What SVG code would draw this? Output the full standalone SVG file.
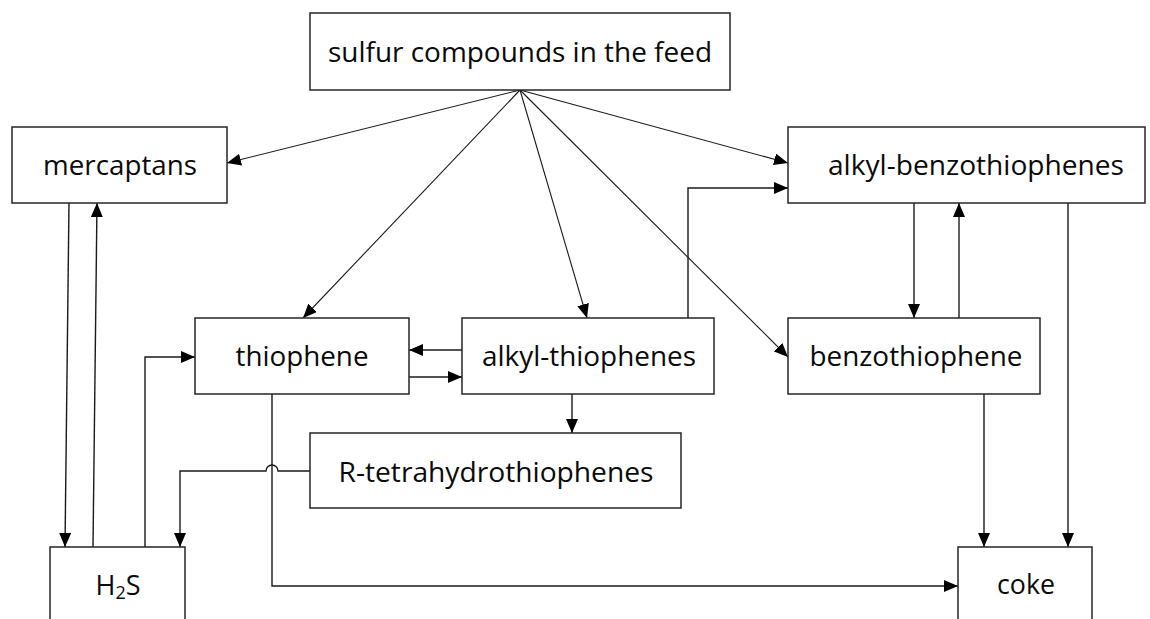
<svg xmlns="http://www.w3.org/2000/svg" width="1150" height="619" viewBox="0 0 1150 619">
  <style>
    .box { fill: #ffffff; stroke: #262626; stroke-width: 1.5; }
    .lbl { font-family: "Open Sans", "Noto Sans", sans-serif; font-size: 27px; fill: #0a0a0a; text-anchor: middle; }
    .sub { font-size: 18px; }
    .link { fill: none; stroke: #1a1a1a; stroke-width: 1.4; marker-end: url(#arrow); }
    .fan { fill: none; stroke: #1a1a1a; stroke-width: 1.1; marker-end: url(#arrow); }
  </style>
  <defs>
    <marker id="arrow" markerUnits="userSpaceOnUse" markerWidth="14" markerHeight="12" viewBox="0 0 14 12" refX="14" refY="6" orient="auto">
      <path d="M0,0 L14,6 L0,12 Z" fill="#000000"/>
    </marker>
  </defs>

  <rect width="1150" height="619" fill="#ffffff"/>

  <!-- connectors -->
  <g id="connectors">
    <!-- feed fan-out -->
    <line class="fan" x1="520" y1="90" x2="227" y2="163"/>
    <line class="fan" x1="520" y1="90" x2="303" y2="318"/>
    <line class="fan" x1="520" y1="90" x2="587" y2="318"/>
    <line class="fan" x1="520" y1="90" x2="788" y2="357"/>
    <line class="fan" x1="520" y1="90" x2="788" y2="163"/>
    <!-- thiophene / alkyl-thiophenes exchange -->
    <line class="link" x1="462" y1="350" x2="409" y2="350"/>
    <line class="link" x1="409" y1="377" x2="462" y2="377"/>
    <!-- alkyl-thiophenes to R-tetrahydrothiophenes -->
    <line class="link" x1="572" y1="394" x2="572" y2="433"/>
    <!-- alkyl-thiophenes to alkyl-benzothiophenes -->
    <polyline class="link" points="688,318 688,188 788,188"/>
    <!-- alkyl-benzothiophenes / benzothiophene exchange -->
    <line class="link" x1="914" y1="203" x2="914" y2="318"/>
    <line class="link" x1="959" y1="318" x2="959" y2="203"/>
    <!-- to coke -->
    <line class="link" x1="1068" y1="203" x2="1068" y2="547"/>
    <line class="link" x1="984" y1="394" x2="984" y2="547"/>
    <polyline class="link" points="272,394 272,586 958,586"/>
    <!-- mercaptans / H2S exchange -->
    <line class="link" x1="69" y1="203" x2="65" y2="547"/>
    <line class="link" x1="93" y1="547" x2="97" y2="203"/>
    <!-- H2S to thiophene -->
    <polyline class="link" points="145,547 145,357 195,357"/>
    <!-- R-tetrahydrothiophenes to H2S, hopping over the thiophene line -->
    <path class="link" d="M310,471 L278,471 A6,6 0 0 0 266,471 L180,471 L180,547"/>
  </g>

  <!-- nodes -->
  <g id="feed">
    <rect class="box" x="310" y="13" width="420" height="77"/>
    <text class="lbl" x="520" y="62" textLength="384" lengthAdjust="spacingAndGlyphs">sulfur compounds in the feed</text>
  </g>
  <g id="mercaptans">
    <rect class="box" x="12" y="127" width="215" height="76"/>
    <text class="lbl" x="120" y="175" textLength="154" lengthAdjust="spacingAndGlyphs">mercaptans</text>
  </g>
  <g id="alkyl-benzothiophenes">
    <rect class="box" x="788" y="127" width="357" height="76"/>
    <text class="lbl" x="976" y="175" textLength="296" lengthAdjust="spacingAndGlyphs">alkyl-benzothiophenes</text>
  </g>
  <g id="thiophene">
    <rect class="box" x="195" y="318" width="214" height="76"/>
    <text class="lbl" x="302" y="366" textLength="133" lengthAdjust="spacingAndGlyphs">thiophene</text>
  </g>
  <g id="alkyl-thiophenes">
    <rect class="box" x="462" y="318" width="252" height="76"/>
    <text class="lbl" x="589" y="366" textLength="214" lengthAdjust="spacingAndGlyphs">alkyl-thiophenes</text>
  </g>
  <g id="benzothiophene">
    <rect class="box" x="788" y="318" width="252" height="76"/>
    <text class="lbl" x="916" y="366" textLength="213" lengthAdjust="spacingAndGlyphs">benzothiophene</text>
  </g>
  <g id="r-tetrahydrothiophenes">
    <rect class="box" x="310" y="433" width="371" height="75"/>
    <text class="lbl" x="496" y="482" textLength="315" lengthAdjust="spacingAndGlyphs">R-tetrahydrothiophenes</text>
  </g>
  <g id="h2s">
    <rect class="box" x="50" y="547" width="135" height="100"/>
    <text class="lbl" x="118" y="595">H<tspan class="sub" dy="4">2</tspan><tspan dy="-4">S</tspan></text>
  </g>
  <g id="coke">
    <rect class="box" x="958" y="547" width="134" height="100"/>
    <text class="lbl" x="1026" y="594" textLength="58" lengthAdjust="spacingAndGlyphs">coke</text>
  </g>
</svg>
